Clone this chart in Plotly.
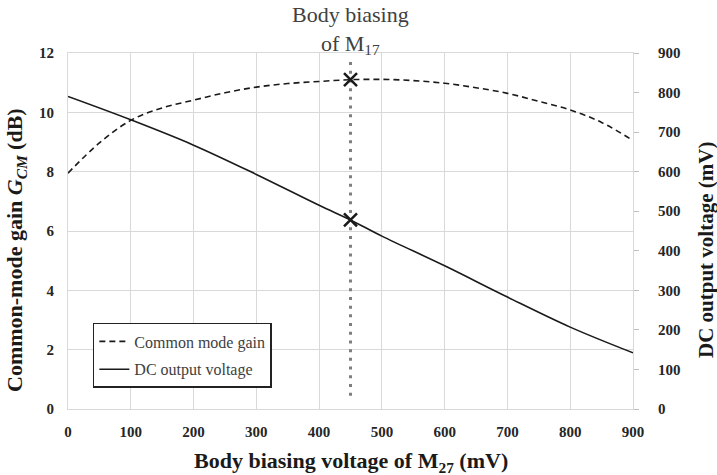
import plotly.graph_objects as go

# ---- data ----
bias_mv = [0, 50, 100, 150, 200, 250, 300, 350, 400, 450, 500, 550, 600, 650, 700, 750, 800, 850, 900]
gain_db = [7.95, 8.97, 9.73, 10.15, 10.41, 10.66, 10.85, 10.97, 11.04, 11.10, 11.11, 11.07, 10.98, 10.83, 10.64, 10.37, 10.08, 9.66, 9.05]

vout_x = [0, 100, 200, 300, 400, 450, 500, 600, 700, 800, 900]
vout_mv = [790, 731, 667, 593, 515, 478, 437, 362, 283, 207, 142]

bias_point = [450]
gain_at_bias = [11.1]
vout_at_bias = [478]
dotted_y = [0.45, 11.8]

x_ticks = [0, 100, 200, 300, 400, 500, 600, 700, 800, 900]
y_ticks = [0, 2, 4, 6, 8, 10, 12]
y2_ticks = [0, 100, 200, 300, 400, 500, 600, 700, 800, 900]

SERIF = "Liberation Serif, Times New Roman, Times, serif"
GRID = "#d9d9d9"

fig = go.Figure()

fig.add_trace(go.Scatter(
    x=bias_mv, y=gain_db, mode="lines", name="Common mode gain",
    line=dict(color="#1a1a1a", width=1.6, dash="6px,4px", shape="spline"),
    legendgroup="a"))

fig.add_trace(go.Scatter(
    x=vout_x, y=vout_mv, mode="lines", name="DC output voltage", yaxis="y2",
    line=dict(color="#1a1a1a", width=1.6, shape="spline"),
    legendgroup="b"))

fig.add_trace(go.Scatter(
    x=bias_point * 2, y=dotted_y, mode="lines", showlegend=False,
    line=dict(color="#7f7f7f", width=3, dash="3px,5.7px")))

fig.add_trace(go.Scatter(
    x=bias_point, y=gain_at_bias, mode="markers", showlegend=False,
    marker=dict(symbol="x-thin", size=13, line=dict(color="#1a1a1a", width=2.5))))

fig.add_trace(go.Scatter(
    x=bias_point, y=vout_at_bias, mode="markers", showlegend=False, yaxis="y2",
    marker=dict(symbol="x-thin", size=13, line=dict(color="#1a1a1a", width=2.5))))

tickfont = dict(family=SERIF, size=15, color="#262626", weight="bold")

fig.update_layout(
    width=717, height=475,
    margin=dict(l=68, r=84, t=53, b=66),
    paper_bgcolor="white", plot_bgcolor="white",
    font=dict(family=SERIF),
    xaxis=dict(range=[0, 900], tickvals=x_ticks, showgrid=True, gridcolor=GRID,
               zeroline=False, showline=True, linecolor=GRID, mirror=True,
               ticks="outside", ticklen=9, tickcolor="rgba(0,0,0,0)",
               tickfont=tickfont),
    yaxis=dict(range=[0, 12], tickvals=y_ticks, showgrid=True, gridcolor=GRID,
               zeroline=False, showline=True, linecolor=GRID, mirror=True,
               ticks="outside", ticklen=10, tickcolor="rgba(0,0,0,0)",
               tickfont=tickfont),
    yaxis2=dict(range=[0, 900], tickvals=y2_ticks, overlaying="y", side="right",
                showgrid=False, zeroline=False, showline=True, linecolor=GRID,
                ticks="outside", ticklen=5, tickcolor="#bfbfbf",
                ticklabelstandoff=16, tickfont=tickfont),
    legend=dict(x=0.044, y=0.2416, xanchor="left", yanchor="top",
                bordercolor="#222222", borderwidth=1.5, bgcolor="white",
                font=dict(family=SERIF, size=16, color="#404040"),
                tracegroupgap=4, itemwidth=30, entrywidth=185,
                entrywidthmode="pixels"),
    showlegend=True,
)

fig.add_annotation(
    text="Body biasing voltage of M<sub>27</sub> (mV)",
    xref="paper", yref="paper", x=0.5, y=(409 - 462) / 356,
    showarrow=False, xanchor="center", yanchor="middle",
    font=dict(family=SERIF, size=22, color="#1a1a1a", weight="bold"))

fig.add_annotation(
    text="Common-mode gain <i>G</i><sub><i>CM</i></sub> (dB)",
    xref="paper", yref="paper", x=(16 - 68) / 565, y=(409 - 250) / 356,
    showarrow=False, textangle=-90, xanchor="center", yanchor="middle",
    font=dict(family=SERIF, size=22, color="#1a1a1a", weight="bold"))

fig.add_annotation(
    text="DC output voltage (mV)",
    xref="paper", yref="paper", x=(706 - 68) / 565, y=(409 - 250) / 356,
    showarrow=False, textangle=-90, xanchor="center", yanchor="middle",
    font=dict(family=SERIF, size=21, color="#1a1a1a", weight="bold"))

fig.add_annotation(
    text="Body biasing<br>of M<sub>17</sub>",
    xref="x", yref="paper", x=bias_point[0], y=1, yshift=-7,
    showarrow=False, xanchor="center", yanchor="bottom",
    font=dict(family=SERIF, size=22, color="#404040"))

fig.write_html("out.html")
